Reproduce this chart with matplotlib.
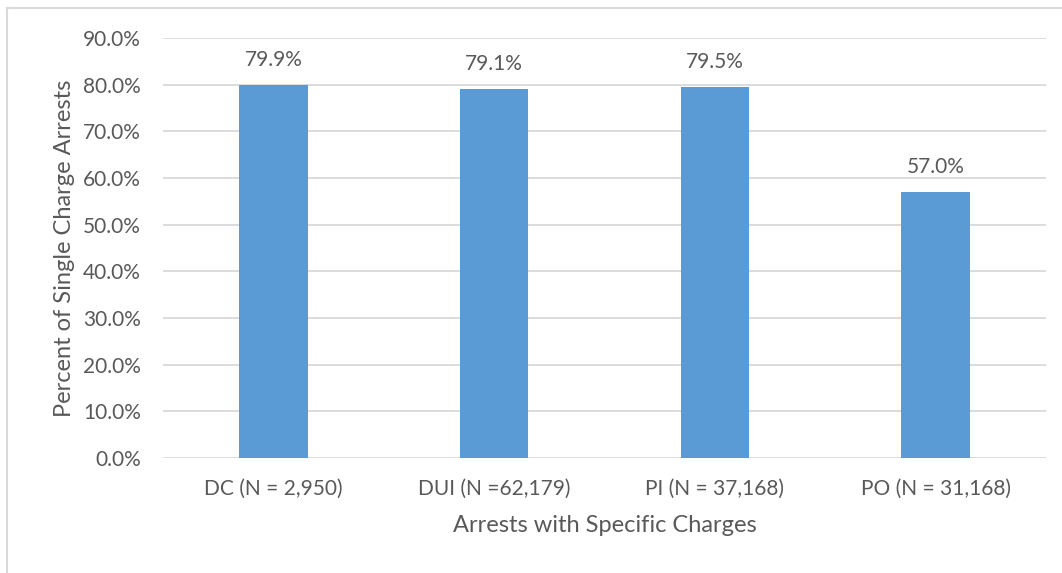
import matplotlib.pyplot as plt
from matplotlib.lines import Line2D

# share of single-charge arrests by charge type
categories = ["DC (N = 2,950)", "DUI (N =62,179)", "PI (N = 37,168)", "PO (N = 31,168)"]
percents = [79.9, 79.1, 79.5, 57.0]
yticks = [0, 10, 20, 30, 40, 50, 60, 70, 80, 90]

text_color = "#595959"
grid_color = "#D9D9D9"
bar_color = "#5B9BD5"

plt.rcParams['font.family'] = ['Lato', 'DejaVu Sans']

W, H = 1062, 573
fig = plt.figure(figsize=(W / 100, H / 100), dpi=100)
ax = fig.add_axes([163 / W, 1 - 458 / H, (1046 - 163) / W, (458 - 38) / H])

x = range(len(categories))
ax.bar(x, percents, width=0.31, color=bar_color, zorder=3)

for xi, v in zip(x, percents):
    ax.annotate("%.1f%%" % v, (xi, v), xytext=(0, 18), textcoords="offset points",
                ha="center", va="center", fontsize=15, color=text_color)

ax.set_xlim(-0.5, len(categories) - 0.5)
ax.set_ylim(0, 90)
ax.set_yticks(yticks)
ax.set_yticklabels(["%.1f%%" % t for t in yticks], fontsize=15, color=text_color)
ax.set_xticks(list(x))
ax.set_xticklabels(categories, fontsize=15, color=text_color)
ax.tick_params(axis='both', length=0)
ax.tick_params(axis='x', pad=15)
ax.tick_params(axis='y', pad=16)

ax.grid(axis='y', color=grid_color, linewidth=1.3, zorder=0)
for s in ax.spines.values():
    s.set_visible(False)

ax.set_ylabel("Percent of Single Charge Arrests", fontsize=17, color=text_color, labelpad=6)
ax.set_xlabel("Arrests with Specific Charges", fontsize=17, color=text_color, labelpad=12)

# light frame along the top and left of the chart area
fig.lines.append(Line2D([7 / W, 7 / W], [0, 1 - 8 / H], transform=fig.transFigure,
                        color=grid_color, linewidth=1.5))
fig.lines.append(Line2D([7 / W, 1], [1 - 8 / H, 1 - 8 / H], transform=fig.transFigure,
                        color=grid_color, linewidth=1.5))

fig.savefig("out.png", dpi=100)
